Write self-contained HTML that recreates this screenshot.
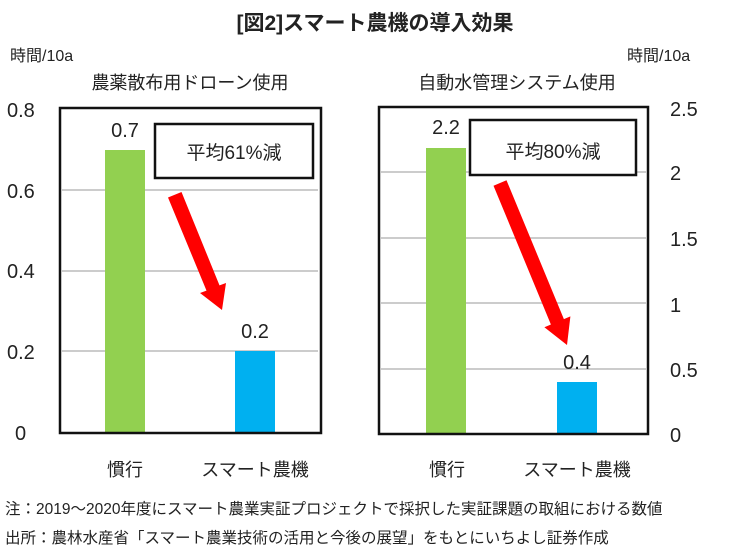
<!DOCTYPE html>
<html><head><meta charset="utf-8"><style>
body{margin:0;background:#fff;}
text{font-family:"Liberation Sans","Noto Sans CJK JP",sans-serif;fill:#222;}
</style></head><body>
<svg width="750" height="552" viewBox="0 0 750 552" xmlns="http://www.w3.org/2000/svg">
<text x="375" y="30" font-size="21" font-weight="bold" text-anchor="middle">[図2]スマート農機の導入効果</text>
<text x="10" y="61" font-size="16">時間/10a</text>
<text x="627" y="61" font-size="16">時間/10a</text>
<text x="190" y="89" font-size="18" text-anchor="middle">農薬散布用ドローン使用</text>
<text x="517" y="89" font-size="18" text-anchor="middle">自動水管理システム使用</text>
<g font-size="20">
<text x="7" y="117">0.8</text>
<text x="7" y="198">0.6</text>
<text x="7" y="278">0.4</text>
<text x="7" y="359">0.2</text>
<text x="15" y="440">0</text>
</g>
<g font-size="20">
<text x="670" y="116">2.5</text>
<text x="670" y="180">2</text>
<text x="670" y="246">1.5</text>
<text x="670" y="312">1</text>
<text x="670" y="377">0.5</text>
<text x="670" y="442">0</text>
</g>
<g stroke="#ccc" stroke-width="2">
<line x1="62" y1="190" x2="318" y2="190"/><line x1="62" y1="271" x2="318" y2="271"/><line x1="62" y1="351" x2="318" y2="351"/>
<line x1="381" y1="172" x2="646" y2="172"/><line x1="381" y1="238" x2="646" y2="238"/><line x1="381" y1="303" x2="646" y2="303"/><line x1="381" y1="369" x2="646" y2="369"/>
</g>
<rect x="105" y="150" width="40" height="283" fill="#92d050"/>
<rect x="235" y="351" width="40" height="82" fill="#00b0f0"/>
<rect x="426" y="148" width="40" height="286" fill="#92d050"/>
<rect x="557" y="382" width="40" height="52" fill="#00b0f0"/>
<rect x="60" y="108" width="261" height="325" fill="none" stroke="#111" stroke-width="2.5"/>
<rect x="379" y="107" width="269" height="327" fill="none" stroke="#111" stroke-width="2.5"/>
<g font-size="20" text-anchor="middle">
<text x="125" y="137">0.7</text>
<text x="255" y="338">0.2</text>
<text x="446" y="134">2.2</text>
<text x="577" y="369">0.4</text>
</g>
<rect x="155" y="124" width="158" height="54" fill="#fff" stroke="#111" stroke-width="2.5"/>
<rect x="470" y="120" width="166" height="55" fill="#fff" stroke="#111" stroke-width="2.5"/>
<text x="234" y="159" font-size="19" text-anchor="middle">平均61%減</text>
<text x="553" y="158" font-size="19" text-anchor="middle">平均80%減</text>
<g fill="#ff0000">
<polygon points="168,197.5 181.5,192 219.5,285.4 226,283 222,310 200,293 206.5,290.6"/>
<polygon points="493.5,185.7 506.5,180.3 563.9,319.1 570.4,316.4 567,345 544.4,327.2 550.9,324.5"/>
</g>
<g font-size="18" text-anchor="middle">
<text x="125" y="476">慣行</text>
<text x="255" y="476">スマート農機</text>
<text x="447" y="476">慣行</text>
<text x="577" y="476">スマート農機</text>
</g>
<text x="5" y="514" font-size="15.5">注：2019～2020年度にスマート農業実証プロジェクトで採択した実証課題の取組における数値</text>
<text x="5" y="543" font-size="15.5">出所：農林水産省「スマート農業技術の活用と今後の展望」をもとにいちよし証券作成</text>
</svg>
</body></html>
